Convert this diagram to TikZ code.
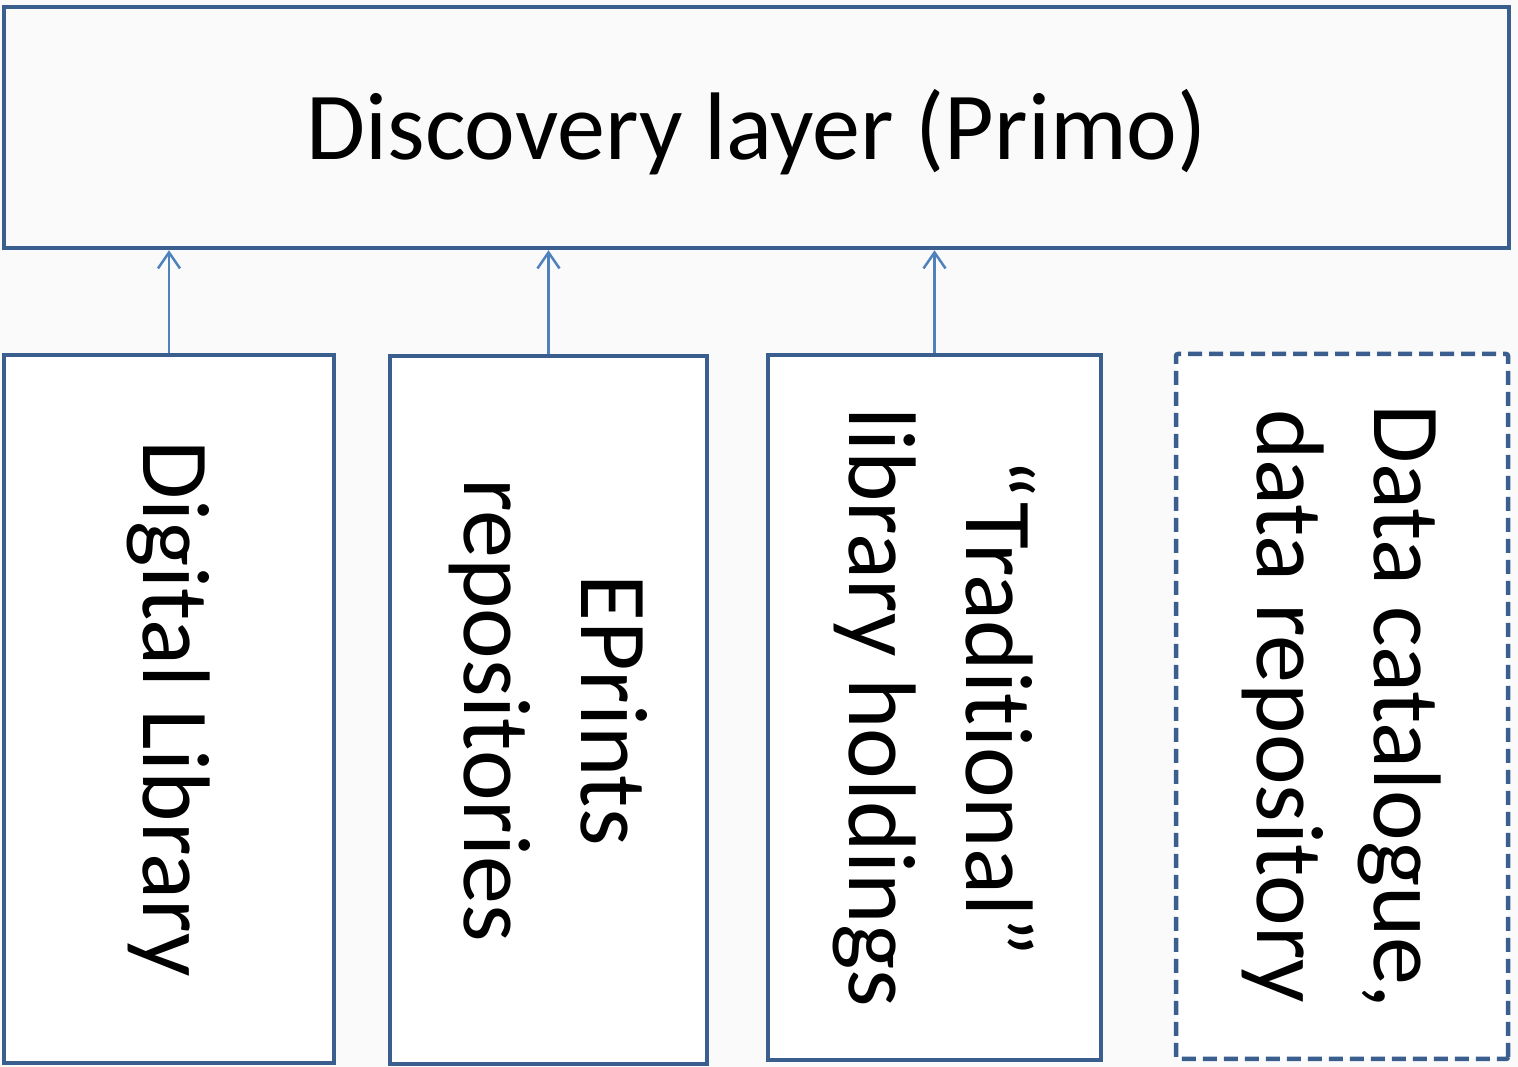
\documentclass[tikz,border=0pt]{standalone}
\usepackage{fontspec}
\setmainfont{Carlito}[Ligatures=NoCommon]
\usetikzlibrary{arrows.meta}
\definecolor{boxblue}{HTML}{3A5F8F}
\definecolor{arrowblue}{HTML}{4F81BD}
\tikzset{
  box/.style={draw=boxblue, line width=4.5pt, fill=white, inner sep=0pt, rectangle, align=center,
    font=\fontsize{96}{117}\selectfont},
  vbox/.style={box, rotate=-90},
  dashbox/.style={vbox, dash pattern=on 14pt off 7pt, rounded corners=2pt},
  feed/.style={draw=arrowblue, line width=2.5pt, -{Straight Barb[length=16pt,width=22pt,line width=2.5pt]}}
}
\begin{document}
\begin{tikzpicture}[x=1pt,y=1pt]
\fill[black!2] (0,0) rectangle (1518,1067);
\useasboundingbox (0,0) rectangle (1518,1067);
\node[box, fill=none, minimum width=1505pt, minimum height=241pt, text depth=0pt] (top) at (756.5,939.5) {};
\node[anchor=base, inner sep=0pt, font=\fontsize{96}{117}\selectfont] (toptext) at (756.5,907) {Discovery layer (Primo)};
\node[vbox, minimum width=708pt, minimum height=330pt] (dl) at (169,358) {Digital Library};
\node[vbox, minimum width=708pt, minimum height=317pt] (ep) at (548.5,357) {EPrints\\repositories};
\node[vbox, minimum width=705pt, minimum height=333pt] (tr) at (934.5,359.5) {“Traditional”\\library holdings};
\node[dashbox, minimum width=705pt, minimum height=332pt] (dc) at (1342,360.5) {Data catalogue,\\data repository};
\draw[feed] (dl.west) -- (dl.west |- top.south);
\draw[feed] (ep.west) -- (ep.west |- top.south);
\draw[feed] (tr.west) -- (tr.west |- top.south);
\end{tikzpicture}
\end{document}
